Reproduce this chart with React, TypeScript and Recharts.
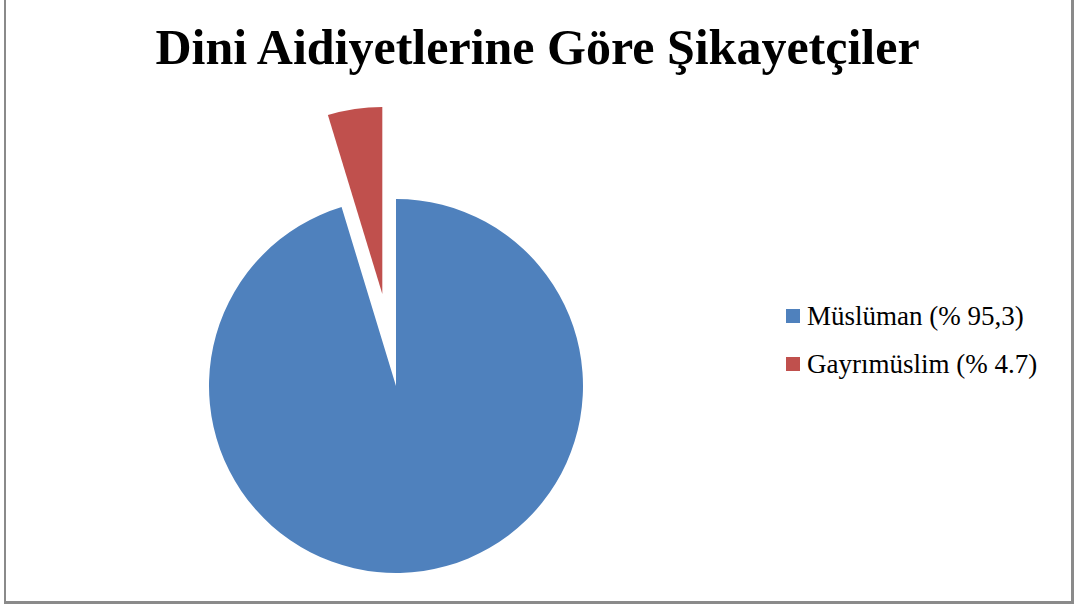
import React from 'react'
import {PieChart, Pie, Cell, Legend} from 'recharts'

const categories = ['Müslüman (% 95,3)', 'Gayrımüslim (% 4.7)']
const shares = [95.3, 4.7]
const colors = ['#4F81BD', '#C0504D']
const title = 'Dini Aidiyetlerine Göre Şikayetçiler'

const data = categories.map((name, i) => ({name, value: shares[i]}))

const CX = 396
const CY = 386
const R = 187
const EXPLODE = 93

// the second slice is pulled out along its own middle angle
const total = shares.reduce((a, b) => a + b, 0)
const midDeg = 90 - 360 * (shares[0] + shares[1] / 2) / total
const cx2 = CX + EXPLODE * Math.cos((midDeg * Math.PI) / 180)
const cy2 = CY - EXPLODE * Math.sin((midDeg * Math.PI) / 180)

const font = '"Liberation Serif", "Times New Roman", serif'

const renderLegend = () => (
    <div style={{fontFamily: font, fontSize: 27, color: '#000'}}>
        {categories.map((c, i) => (
            <div key={c} style={{display: 'flex', alignItems: 'center', height: 48}}>
                <span style={{display: 'inline-block', width: 14, height: 14, background: colors[i], marginRight: 7}} />
                <span>{c}</span>
            </div>
        ))}
    </div>
)

export default function App() {
    return (
        <div style={{position: 'absolute', left: 0, top: 0, width: 1075, height: 605, background: '#fff'}}>
            <div style={{position: 'absolute', left: 4, top: 0, width: 1065, height: 601,
                borderLeft: '2px solid #8a8a8a', borderRight: '3px solid #8a8a8a', borderBottom: '3px solid #8a8a8a'}} />
            <div style={{position: 'absolute', left: 0, top: 19, width: 1075, textAlign: 'center',
                fontFamily: font, fontWeight: 'bold', fontSize: 50, lineHeight: '56px', color: '#000'}}>
                {title}
            </div>
            <PieChart width={1075} height={605} margin={{top: 0, right: 0, bottom: 0, left: 0}}>
                <Pie data={data} dataKey="value" nameKey="name" cx={CX} cy={CY} outerRadius={R}
                    startAngle={90} endAngle={-270} stroke="none" isAnimationActive={false}>
                    {data.map((d, i) => (
                        <Cell key={d.name} fill={i === 0 ? colors[0] : 'transparent'} />
                    ))}
                </Pie>
                <Pie data={data} dataKey="value" nameKey="name" cx={cx2} cy={cy2} outerRadius={R}
                    startAngle={90} endAngle={-270} stroke="none" legendType="none" isAnimationActive={false}>
                    {data.map((d, i) => (
                        <Cell key={d.name} fill={i === 1 ? colors[1] : 'transparent'} />
                    ))}
                </Pie>
                <Legend layout="vertical" content={renderLegend}
                    wrapperStyle={{left: 786, top: 292, width: 285}} />
            </PieChart>
        </div>
    )
}
